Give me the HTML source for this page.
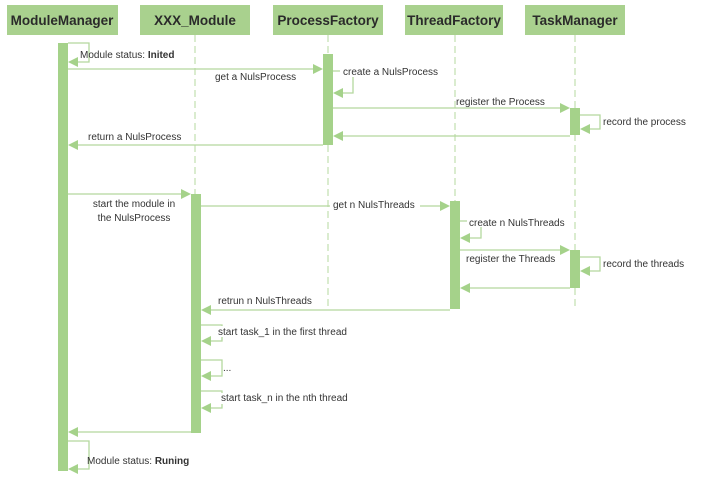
<!DOCTYPE html>
<html><head><meta charset="utf-8"><style>
html,body{margin:0;padding:0;background:#fff;}
svg{display:block;}
text{font-family:"Liberation Sans",sans-serif;font-size:10px;fill:#333;}
.h{font-size:13.5px;font-weight:bold;fill:#2a2a2a;text-anchor:middle;}
.ln{stroke:#b4d89e;stroke-width:1.3;fill:none;}
.ll{stroke:#c6e1b5;stroke-width:1.3;stroke-dasharray:7,4;fill:none;}
.bar{fill:#a5d28a;}
.ar{fill:#a5d28a;}
</style></head><body>
<svg width="714" height="485" viewBox="0 0 714 485" xmlns="http://www.w3.org/2000/svg">
<!-- headers -->
<rect x="7" y="5" width="111" height="30" fill="#a9d18e"/>
<rect x="140" y="5" width="110" height="30" fill="#a9d18e"/>
<rect x="273" y="5" width="110" height="30" fill="#a9d18e"/>
<rect x="405" y="5" width="98" height="30" fill="#a9d18e"/>
<rect x="525" y="5" width="100" height="30" fill="#a9d18e"/>
<text class="h" x="62" y="25">ModuleManager</text>
<text class="h" x="195" y="25">XXX_Module</text>
<text class="h" x="328" y="25">ProcessFactory</text>
<text class="h" x="454" y="25">ThreadFactory</text>
<text class="h" x="575" y="25">TaskManager</text>
<!-- lifelines -->
<line class="ll" x1="195" y1="35" x2="195" y2="194"/>
<line class="ll" x1="328" y1="35" x2="328" y2="310"/>
<line class="ll" x1="455" y1="35" x2="455" y2="310"/>
<line class="ll" x1="575" y1="35" x2="575" y2="310"/>
<!-- bars -->
<rect class="bar" x="58" y="43" width="10" height="428"/>
<rect class="bar" x="191" y="194" width="10" height="239"/>
<rect class="bar" x="323" y="54" width="10" height="91"/>
<rect class="bar" x="450" y="201" width="10" height="108"/>
<rect class="bar" x="570" y="108" width="10" height="27"/>
<rect class="bar" x="570" y="250" width="10" height="38"/>

<!-- MM self Inited -->
<polyline class="ln" points="68,43 89,43 89,62 70,62"/>
<polygon class="ar" points="68,62 78,57 78,67"/>
<text x="80" y="58">Module status: <tspan font-weight="bold">Inited</tspan></text>
<!-- get a NulsProcess -->
<line class="ln" x1="68" y1="69" x2="315" y2="69"/>
<polygon class="ar" points="323,69 313,64 313,74"/>
<text x="215" y="80">get a NulsProcess</text>
<!-- create -->
<polyline class="ln" points="333,71 353,71 353,93 335,93"/>
<polygon class="ar" points="333,93 343,88 343,98"/>
<rect x="340" y="66" width="100" height="11" fill="#fff"/>
<text x="343" y="75">create a NulsProcess</text>
<!-- register process -->
<line class="ln" x1="333" y1="108" x2="562" y2="108"/>
<polygon class="ar" points="570,108 560,103 560,113"/>
<text x="456" y="105">register the Process</text>
<!-- record process -->
<polyline class="ln" points="580,115 600,115 600,129 582,129"/>
<polygon class="ar" points="580,129 590,124 590,134"/>
<text x="603" y="125">record the process</text>
<line class="ln" x1="570" y1="136" x2="335" y2="136"/>
<polygon class="ar" points="333,136 343,131 343,141"/>
<!-- return -->
<line class="ln" x1="323" y1="145" x2="70" y2="145"/>
<polygon class="ar" points="68,145 78,140 78,150"/>
<text x="88" y="140">return a NulsProcess</text>
<!-- start module -->
<line class="ln" x1="68" y1="194" x2="183" y2="194"/>
<polygon class="ar" points="191,194 181,189 181,199"/>
<text x="134" y="207" text-anchor="middle">start the module in</text>
<text x="134" y="221" text-anchor="middle">the NulsProcess</text>
<!-- get n threads -->
<line class="ln" x1="201" y1="206" x2="442" y2="206"/>
<polygon class="ar" points="450,206 440,201 440,211"/>
<rect x="330" y="199" width="90" height="11" fill="#fff"/>
<text x="333" y="208">get n NulsThreads</text>
<!-- create n -->
<polyline class="ln" points="460,221 481,221 481,238 462,238"/>
<polygon class="ar" points="460,238 470,233 470,243"/>
<rect x="467" y="216" width="104" height="11" fill="#fff"/>
<text x="469" y="226">create n NulsThreads</text>
<!-- register threads -->
<line class="ln" x1="460" y1="250" x2="562" y2="250"/>
<polygon class="ar" points="570,250 560,245 560,255"/>
<text x="466" y="262">register the Threads</text>
<polyline class="ln" points="580,257 600,257 600,271 582,271"/>
<polygon class="ar" points="580,271 590,266 590,276"/>
<text x="603" y="267">record the threads</text>
<line class="ln" x1="570" y1="288" x2="462" y2="288"/>
<polygon class="ar" points="460,288 470,283 470,293"/>
<!-- retrun -->
<line class="ln" x1="450" y1="310" x2="203" y2="310"/>
<polygon class="ar" points="201,310 211,305 211,315"/>
<text x="218" y="304">retrun n NulsThreads</text>
<!-- tasks -->
<polyline class="ln" points="201,325 222,325 222,341 203,341"/>
<polygon class="ar" points="201,341 211,336 211,346"/>
<rect x="216" y="326" width="150" height="11" fill="#fff"/>
<text x="218" y="335">start  task_1 in  the first thread</text>
<polyline class="ln" points="201,360 222,360 222,376 203,376"/>
<polygon class="ar" points="201,376 211,371 211,381"/>
<text x="223" y="371">...</text>
<polyline class="ln" points="201,391 222,391 222,408 203,408"/>
<polygon class="ar" points="201,408 211,403 211,413"/>
<rect x="219" y="393" width="145" height="11" fill="#fff"/>
<text x="221" y="401">start  task_n in the nth thread</text>
<!-- back to MM -->
<line class="ln" x1="191" y1="432" x2="70" y2="432"/>
<polygon class="ar" points="68,432 78,427 78,437"/>
<!-- Runing -->
<polyline class="ln" points="68,441 89,441 89,469 70,469"/>
<polygon class="ar" points="68,469 78,464 78,474"/>
<text x="87" y="464">Module status: <tspan font-weight="bold">Runing</tspan></text>
</svg>
</body></html>
